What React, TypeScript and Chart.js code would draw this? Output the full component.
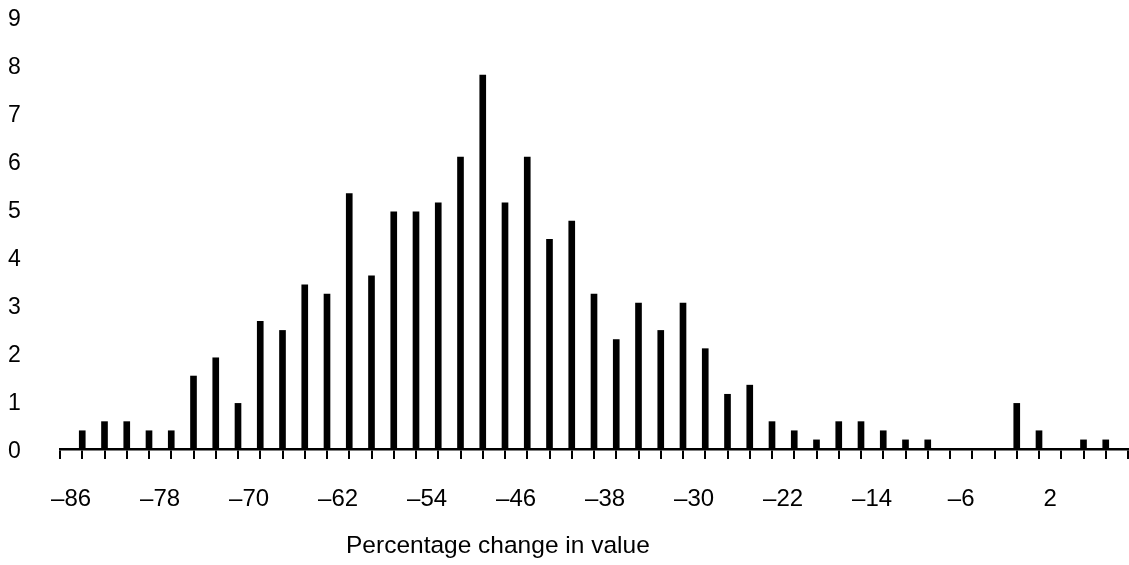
import React, { useEffect, useRef } from 'react';
import { Chart, registerables } from 'chart.js';

Chart.register(...registerables);

// x positions (axis units) where the bars stand
const barPositions = [
  -85, -83, -81, -79, -77, -75, -73, -71, -69, -67, -65, -63, -61, -59, -57, -55,
  -53, -51, -49, -47, -45, -43, -41, -39, -37, -35, -33, -31, -29, -27, -25, -23,
  -21, -19, -17, -15, -13, -11, -9, -7, -5, -3, -1, 1, 3, 5, 7,
];

// bar heights (percent)
const frequencies = [
  0.38, 0.57, 0.57, 0.38, 0.38, 1.52, 1.9, 0.95, 2.66, 2.47, 3.42, 3.23, 5.32, 3.61, 4.94, 4.94,
  5.13, 6.08, 7.79, 5.13, 6.08, 4.37, 4.75, 3.23, 2.28, 3.04, 2.47, 3.04, 2.09, 1.14, 1.33, 0.57,
  0.38, 0.19, 0.57, 0.57, 0.38, 0.19, 0.19, 0, 0, 0, 0.95, 0.38, 0, 0.19, 0.19,
];

// labelled x ticks
const xTickLabels = [-86, -78, -70, -62, -54, -46, -38, -30, -22, -14, -6, 2];
// y ticks
const yTickValues = [0, 1, 2, 3, 4, 5, 6, 7, 8, 9];

const xTitle = 'Percentage change in value';

const X_MIN = -87;
const X_MAX = 9;
const FONT = '"Liberation Sans", Arial, Helvetica, sans-serif';

const fmt = (v: number) => (v < 0 ? '\u2013' + Math.abs(v) : String(v));

const axisTitlePlugin = {
  id: 'offsetAxisTitle',
  afterDraw(chart: any) {
    const { ctx, chartArea } = chart;
    const x = chartArea.left + (chartArea.right - chartArea.left) * 0.41;
    ctx.save();
    ctx.font = `24.5px ${FONT}`;
    ctx.fillStyle = '#000';
    ctx.textAlign = 'center';
    ctx.textBaseline = 'alphabetic';
    ctx.fillText(xTitle, x, chart.height - 12);
    ctx.restore();
  },
};

export default function App() {
  const canvasRef = useRef<HTMLCanvasElement | null>(null);

  useEffect(() => {
    if (!canvasRef.current) return;
    Chart.defaults.font.family = FONT;
    const chart = new Chart(canvasRef.current, {
      type: 'bar',
      data: {
        datasets: [
          {
            data: barPositions.map((x, i) => ({ x, y: frequencies[i] })),
            backgroundColor: '#000',
            borderWidth: 0,
            barThickness: 6,
          },
        ],
      },
      options: {
        responsive: false,
        animation: false,
        layout: { padding: { left: 8, top: 17, right: 1, bottom: 0 } },
        plugins: { legend: { display: false }, tooltip: { enabled: false } },
        scales: {
          x: {
            type: 'linear',
            min: X_MIN,
            max: X_MAX,
            offset: false,
            afterBuildTicks: (scale: any) => {
              const t: any[] = [];
              for (let v = X_MIN + 1; v < X_MAX; v += 2) t.push({ value: v });
              scale.ticks = t;
            },
            afterFit: (scale: any) => {
              scale.height = 116;
              scale.paddingLeft = 0;
              scale.paddingRight = 0;
            },
            grid: {
              offset: true,
              drawOnChartArea: false,
              drawTicks: true,
              tickLength: 10,
              color: '#000',
              lineWidth: 2,
            },
            border: { display: true, color: '#000', width: 2.5 },
            ticks: {
              autoSkip: false,
              maxRotation: 0,
              color: '#000',
              font: { size: 24 },
              padding: 26,
              callback: (v: any) => (xTickLabels.includes(Number(v)) ? fmt(Number(v)) : ''),
            },
          },
          y: {
            type: 'linear',
            min: 0,
            max: 9,
            afterBuildTicks: (scale: any) => {
              scale.ticks = yTickValues.map((v) => ({ value: v }));
            },
            afterFit: (scale: any) => {
              scale.width = 52;
              scale.paddingTop = 0;
              scale.paddingBottom = 0;
            },
            grid: { display: false },
            border: { display: false },
            ticks: {
              color: '#000',
              font: { size: 23 },
              crossAlign: 'far',
              labelOffset: 3,
            },
          },
        },
      },
      plugins: [axisTitlePlugin],
    } as any);
    return () => chart.destroy();
  }, []);

  return (
    <div style={{ position: 'absolute', left: 0, top: 0, width: 1129, height: 565 }}>
      <canvas ref={canvasRef} width={1129} height={565} style={{ display: 'block' }} />
    </div>
  );
}
